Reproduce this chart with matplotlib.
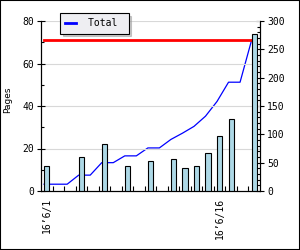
from matplotlib import pyplot as plt
from matplotlib.patches import Rectangle
import numpy as np

plt.rcParams['font.family'] = ['DejaVu Sans Mono']
plt.rcParams['font.size'] = 7

# pages per day (June 2016), zero = nothing that day
days = list(range(1, 20))
pages = [12, 0, 0, 16, 0, 22, 0, 12, 0, 14, 0, 15, 11, 12, 18, 26, 34, 0, 74]
total = [12, 12, 12, 28, 28, 50, 50, 62, 62, 76, 76, 91, 102, 114, 132, 158, 192, 192, 266]
xlabels = {1: u"16\u20196/1", 16: u"16\u20196/16"}

fig = plt.figure(figsize=(3, 2.5), dpi=100)
fig.patch.set_facecolor("white")
ax = fig.add_axes([41 / 300, 1 - 191 / 250, 219 / 300, 170 / 250])
ax2 = ax.twinx()
ax.set_zorder(ax2.get_zorder() + 1)
ax.patch.set_visible(False)

x = np.array(days, dtype=float)
p = np.array(pages, dtype=float)
shown = p > 0
ax.bar(x[shown] - 0.23, p[shown], width=0.46, align="edge",
       color="#add8e6", edgecolor="black", linewidth=0.8)

ax2.plot(x - 0.23, total, color="#0000ff", linewidth=0.9, label="Total ")
ax2.plot(x - 0.23, [total[-1]] * len(days), color="#ff0000", linewidth=2)

ax.set_xlim(0.5, 19.5)
ax.set_ylim(0, 80)
ax2.set_ylim(0, 300)

ax.set_yticks([0, 20, 40, 60, 80])
ax.set_yticks([10, 30, 50, 70], minor=True)
ax2.set_yticks([0, 50, 100, 150, 200, 250, 300])
ax2.set_yticks([v for v in range(0, 301, 10) if v % 50], minor=True)

ax.set_xticks(list(xlabels.keys()))
ax.set_xticklabels(list(xlabels.values()), rotation=90)
ax.set_xticks([d + 0.5 for d in days[:-1]], minor=True)
ax.tick_params(axis="x", which="major", length=0, pad=5)
ax.tick_params(axis="x", which="minor", direction="in", length=3.8, width=0.8)
ax.tick_params(axis="y", which="major", direction="inout", length=6, width=0.8, pad=2)
ax.tick_params(axis="y", which="minor", direction="in", length=2.5, width=0.8)
ax2.tick_params(axis="y", which="major", direction="inout", length=6, width=0.8, pad=2)
ax2.tick_params(axis="y", which="minor", direction="in", length=2.5, width=0.8)

ax.grid(axis="y", color="#d8d8d8", linewidth=0.8)
ax.set_axisbelow(True)

for a in (ax, ax2):
    a.spines["top"].set_visible(False)
    for s in ("left", "right", "bottom"):
        a.spines[s].set_linewidth(0.8)

ax.set_ylabel("Pages", family="DejaVu Sans", fontsize=6.5)
ax.yaxis.set_label_coords(-0.13, 0.538)

leg = fig.legend(loc="upper left", bbox_to_anchor=(60 / 300, 1 - 13 / 250),
                 frameon=True, fancybox=False, shadow={"color": "#9a9a9a"},
                 handlelength=1.13, handletextpad=1.2, borderpad=0.55,
                 borderaxespad=0)
leg.get_frame().set_facecolor("#eeeef2")
leg.get_frame().set_edgecolor("black")
leg.get_frame().set_linewidth(0.8)
leg.get_frame().set_alpha(1)
for h in leg.get_lines():
    h.set_linewidth(2)

fig.patches.append(Rectangle((0, 0), 1, 1, transform=fig.transFigure,
                             fill=False, edgecolor="black", linewidth=1.5))

fig.savefig("out.png", dpi=100)
